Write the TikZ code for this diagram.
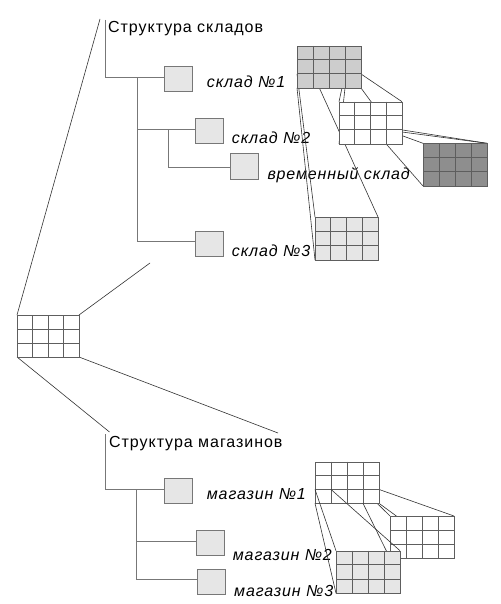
\documentclass[tikz,border=0pt]{standalone}
\usepackage{fontspec}
\setmainfont{Liberation Sans}
\usetikzlibrary{calc}
\definecolor{treeC}{HTML}{777777}
\definecolor{boxF}{HTML}{E6E6E6}
\definecolor{gridC}{HTML}{5E5E5E}
\definecolor{lineC}{HTML}{333333}
\definecolor{fillA}{HTML}{CDCDCD}
\definecolor{fillB}{HTML}{8E8E8E}
\definecolor{fillC}{HTML}{E6E6E6}
\tikzset{
  treeline/.style={draw=treeC, line width=1pt},
  leafbox/.style={draw=treeC, fill=boxF, line width=1pt, inner sep=0, minimum width=28pt, minimum height=25pt},
  thinline/.style={draw=lineC, line width=0.6pt},
  gridbox/.style={draw=gridC, line width=1pt, inner sep=0, anchor=north west},
  gridline/.style={draw=gridC, line width=1pt},
  titletext/.style={font=\fontsize{16}{19}\selectfont\addfontfeatures{LetterSpace=6}, anchor=base west, inner sep=0},
  labeltext/.style={font=\fontsize{16}{19}\selectfont\itshape\addfontfeatures{LetterSpace=5.5}, anchor=base west, inner sep=0},
}
% grid corner coordinates: name, x1, y1, x2, y2
\newcommand\gridcoords[5]{%
  \foreach \i in {0,...,4}{\foreach \j in {0,...,3}{%
    \coordinate (#1-\i-\j) at ({#2+\i*(#4-#2)/4},{#3+\j*(#5-#3)/3});}}%
}
% draw grid: name, fill
\newcommand\drawgrid[2]{%
  \path let \p1=(#1-0-0), \p2=(#1-4-3) in
    node[gridbox, fill=#2, minimum width={\x2-\x1}, minimum height={\y1-\y2}] (#1) at (#1-0-0) {};
  \foreach \i in {1,2,3}{\draw[gridline] (#1-\i-0) -- (#1-\i-3);}
  \foreach \j in {1,2}{\draw[gridline] (#1-0-\j) -- (#1-4-\j);}
}
\begin{document}
\begin{tikzpicture}[x=1pt, y=-1pt]
\useasboundingbox[fill=white] (0,0) rectangle (500,604);

% ---------- grid coordinates ----------
\gridcoords{g0}{17}{315}{79}{357}
\gridcoords{w1}{297}{46}{361}{88}
\gridcoords{w2}{339}{101.7}{402}{144}
\gridcoords{w3}{423}{143.3}{487}{186}
\gridcoords{w4}{315}{217}{378}{260}
\gridcoords{s1}{315}{461.7}{379}{503.3}
\gridcoords{s2}{390}{516}{454}{558.3}
\gridcoords{s3}{336}{550.7}{400}{593.3}

% ---------- long lines from the small grid ----------
\coordinate (topend) at (100,19);
\coordinate (midend) at (150,263);
\coordinate (botA) at (109.5,432);
\coordinate (botB) at (278,433);
\draw[thinline] (g0-0-0) -- (topend);
\draw[thinline] (g0-4-0) -- (midend);
\draw[thinline] (g0-0-3) -- (botA);
\draw[thinline] (g0-4-3) -- (botB);
\drawgrid{g0}{white}

% ---------- warehouses tree ----------
\node[titletext] (t1) at (108,33) {Структура складов};
\node[leafbox] (b1) at (178.5,79.3) {};
\node[leafbox] (b2) at (209.5,131.5) {};
\node[leafbox] (bt) at (244.5,166.5) {};
\node[leafbox] (b3) at (209.5,243.5) {};
\coordinate (t1top) at (105.5,20);
\coordinate (t1knee) at (105.5,77.5);
\coordinate (tr1) at (137,77.5);
\coordinate (tr2) at (137,130);
\coordinate (tr3) at (137,241);
\coordinate (sub1) at (168,130);
\coordinate (sub2) at (168,167.5);
\draw[treeline] (t1top) -- (t1knee) -- (b1.west |- t1knee);
\draw[treeline] (tr1) -- (tr3) -- (b3.west |- tr3);
\draw[treeline] (tr2) -- (b2.west |- tr2);
\draw[treeline] (sub1) -- (sub2) -- (bt.west |- sub2);
\node[labeltext] (l1) at (206.7,87.5) {склад №1};
\node[labeltext] (l2) at (231.7,143) {склад №2};
\node[labeltext] (lt) at (267.3,179) {временный склад};
\node[labeltext] (l3) at (231.7,256) {склад №3};

% ---------- warehouse grids ----------
\draw[thinline] (w1-3-2) -- (w2-0-0);
\draw[thinline] (w1-3-3) -- (w2-0-3);
\draw[thinline] (w1-4-2) -- (w2-4-0);
\draw[thinline] (w1-4-3) -- (w2-4-3);
\draw[thinline] (w2-3-2) -- (w3-0-0);
\draw[thinline] (w2-3-3) -- (w3-0-3);
\draw[thinline] (w2-4-2) -- (w3-4-0);
\draw[thinline] (w2-3-2) -- (w3-4-0);
\draw[thinline] (w1-0-2) -- (w4-0-0);
\draw[thinline] (w1-0-3) -- (w4-0-3);
\draw[thinline] (w1-1-2) -- (w4-4-0);
\drawgrid{w1}{fillA}
\drawgrid{w2}{white}
\drawgrid{w3}{fillB}
\drawgrid{w4}{fillC}

% ---------- shops tree ----------
\node[titletext] (t2) at (109,447) {Структура магазинов};
\node[leafbox] (m1) at (178.3,490.5) {};
\node[leafbox] (m2) at (210,542.8) {};
\node[leafbox] (m3) at (211.7,581.7) {};
\coordinate (t2top) at (105.7,434);
\coordinate (t2knee) at (105.7,489);
\coordinate (mt1) at (136.7,489);
\coordinate (mt2) at (136.7,541);
\coordinate (mt3) at (136.7,579);
\draw[treeline] (t2top) -- (t2knee) -- (m1.west |- t2knee);
\draw[treeline] (mt1) -- (mt3) -- (m3.west |- mt3);
\draw[treeline] (mt2) -- (m2.west |- mt2);
\node[labeltext] (n1) at (206.7,499) {магазин №1};
\node[labeltext] (n2) at (232.7,560) {магазин №2};
\node[labeltext] (n3) at (234,596) {магазин №3};

% ---------- shop grids ----------
\draw[thinline] (s1-4-2) -- (s2-4-0);
\draw[thinline] (s1-4-3) -- (s2-4-3);
\draw[thinline] (s1-3-2) -- (s2-0-0);
\drawgrid{s1}{white}
\drawgrid{s2}{white}
\draw[thinline] (s1-3-3) -- (s2-0-3);
\draw[thinline] (s1-0-2) -- (s3-0-0);
\draw[thinline] (s1-0-3) -- (s3-0-3);
\draw[thinline] (s1-1-2) -- (s3-4-0);
\drawgrid{s3}{fillC}
\end{tikzpicture}
\end{document}
